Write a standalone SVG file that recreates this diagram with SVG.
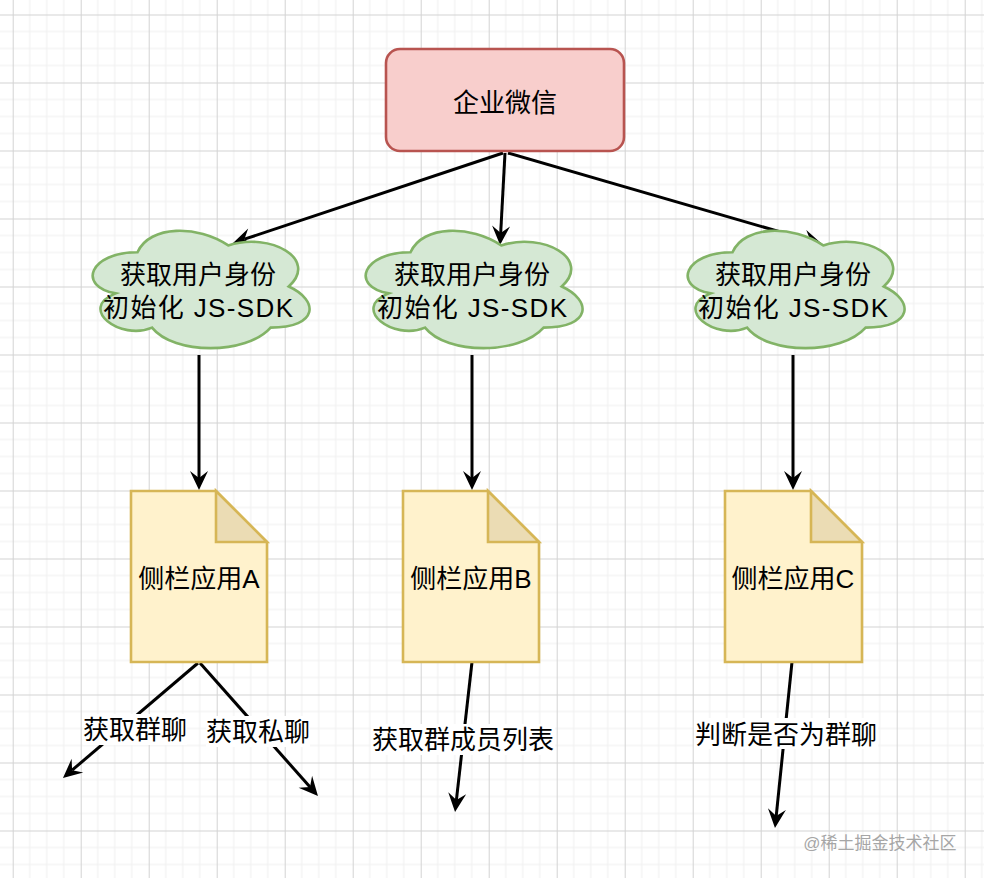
<svg xmlns="http://www.w3.org/2000/svg" width="984" height="878" viewBox="0 0 984 878">
<style>
.t{font-family:"Liberation Sans","Noto Sans CJK SC",sans-serif;font-size:26px;fill:#000;text-anchor:middle}
.wm{font-family:"Liberation Sans","Noto Sans CJK SC",sans-serif;font-size:17px;fill:#a6a6a6;text-anchor:middle}
.cloud{fill:#d5e8d4;stroke:#82b366;stroke-width:2.6}
.doc{fill:#fff2cc;stroke:#d6b656;stroke-width:2.6;stroke-linejoin:miter}
.fold{fill:#ebdcb4;stroke:#d6b656;stroke-width:2.6}
.edge{fill:none;stroke:#000;stroke-width:3}
.lbg{fill:#fff}
</style>
<defs>
<pattern id="grid" x="12.7" y="14.5" width="68" height="68" patternUnits="userSpaceOnUse">
<path d="M17,0V68M34,0V68M51,0V68M0,17H68M0,34H68M0,51H68" stroke="#efefef" stroke-width="1" fill="none"/>
<path d="M0.5,0V68M0,0.5H68" stroke="#d3d3d3" stroke-width="1" fill="none"/>
</pattern>
<marker id="arr" markerUnits="userSpaceOnUse" viewBox="-8 -11 22 22" markerWidth="22" markerHeight="22" refX="0" refY="0" orient="auto">
<path d="M12,0 L-7,-9 L0,0 L-7,9 Z" fill="#000"/>
</marker>
<path id="cloudShape" d="M60.5,34.25 C12.1,34.25 0,68.5 38.72,75.35 C0,90.42 43.56,123.3 75.02,109.6 C96.8,137 169.4,137 193.6,109.6 C242,109.6 242,82.2 211.75,68.5 C242,41.1 193.6,13.7 151.25,27.4 C121,6.85 72.6,6.85 60.5,34.25 Z"/>
</defs>
<rect width="984" height="878" fill="#fff"/>
<rect width="984" height="878" fill="url(#grid)"/>

<g id="connectors">
<path class="edge" d="M503,153 L244.4,239.2" marker-end="url(#arr)"/>
<path class="edge" d="M505,153 L500.7,233" marker-end="url(#arr)"/>
<path class="edge" d="M508,153 L810.5,240.7" marker-end="url(#arr)"/>
<path class="edge" d="M199,355 L199,478" marker-end="url(#arr)"/>
<path class="edge" d="M472,355 L472,478" marker-end="url(#arr)"/>
<path class="edge" d="M793,355 L793,478" marker-end="url(#arr)"/>
<path class="edge" d="M198,663 L72.1,770.2" marker-end="url(#arr)"/>
<path class="edge" d="M200,663 L310,787" marker-end="url(#arr)"/>
<path class="edge" d="M472,662 L456.4,800.1" marker-end="url(#arr)"/>
<path class="edge" d="M792,662 L776.2,816.1" marker-end="url(#arr)"/>
<g id="edge-labels">
<rect class="lbg" x="83" y="714" width="104" height="31"/>
<text class="t" x="135" y="739">获取群聊</text>
<rect class="lbg" x="206" y="716" width="104" height="31"/>
<text class="t" x="258" y="741">获取私聊</text>
<rect class="lbg" x="371" y="724" width="184" height="31"/>
<text class="t" x="463" y="749">获取群成员列表</text>
<rect class="lbg" x="694" y="718" width="184" height="31"/>
<text class="t" x="786" y="744">判断是否为群聊</text>
</g>
</g>

<g id="node-qywx">
<rect x="386" y="49" width="238" height="102" rx="14" ry="14" fill="#f8cecc" stroke="#b85450" stroke-width="2.6"/>
<text class="t" x="505" y="112">企业微信</text>
</g>

<g id="cloud-a">
<use href="#cloudShape" class="cloud" x="77" y="218"/>
<text class="t" x="198" y="283.5">获取用户身份</text>
<text class="t" x="198" y="316.5" textLength="190" lengthAdjust="spacing">初始化 JS-SDK</text>
</g>
<g id="cloud-b">
<use href="#cloudShape" class="cloud" x="350" y="218"/>
<text class="t" x="472" y="283.5">获取用户身份</text>
<text class="t" x="472" y="316.5" textLength="190" lengthAdjust="spacing">初始化 JS-SDK</text>
</g>
<g id="cloud-c">
<use href="#cloudShape" class="cloud" x="672" y="218"/>
<text class="t" x="793" y="283.5">获取用户身份</text>
<text class="t" x="793" y="316.5" textLength="190" lengthAdjust="spacing">初始化 JS-SDK</text>
</g>

<g id="doc-a">
<path class="doc" d="M131,491 H216 L267,542 V662 H131 Z"/>
<path class="fold" d="M216,491 V542 H267 Z"/>
<text class="t" x="199" y="588">侧栏应用A</text>
</g>
<g id="doc-b">
<path class="doc" d="M403,491 H488 L539,542 V662 H403 Z"/>
<path class="fold" d="M488,491 V542 H539 Z"/>
<text class="t" x="471" y="588">侧栏应用B</text>
</g>
<g id="doc-c">
<path class="doc" d="M725,491 H811 L862,542 V662 H725 Z"/>
<path class="fold" d="M811,491 V542 H862 Z"/>
<text class="t" x="793" y="588">侧栏应用C</text>
</g>

<text class="wm" x="880" y="849">@稀土掘金技术社区</text>
</svg>
